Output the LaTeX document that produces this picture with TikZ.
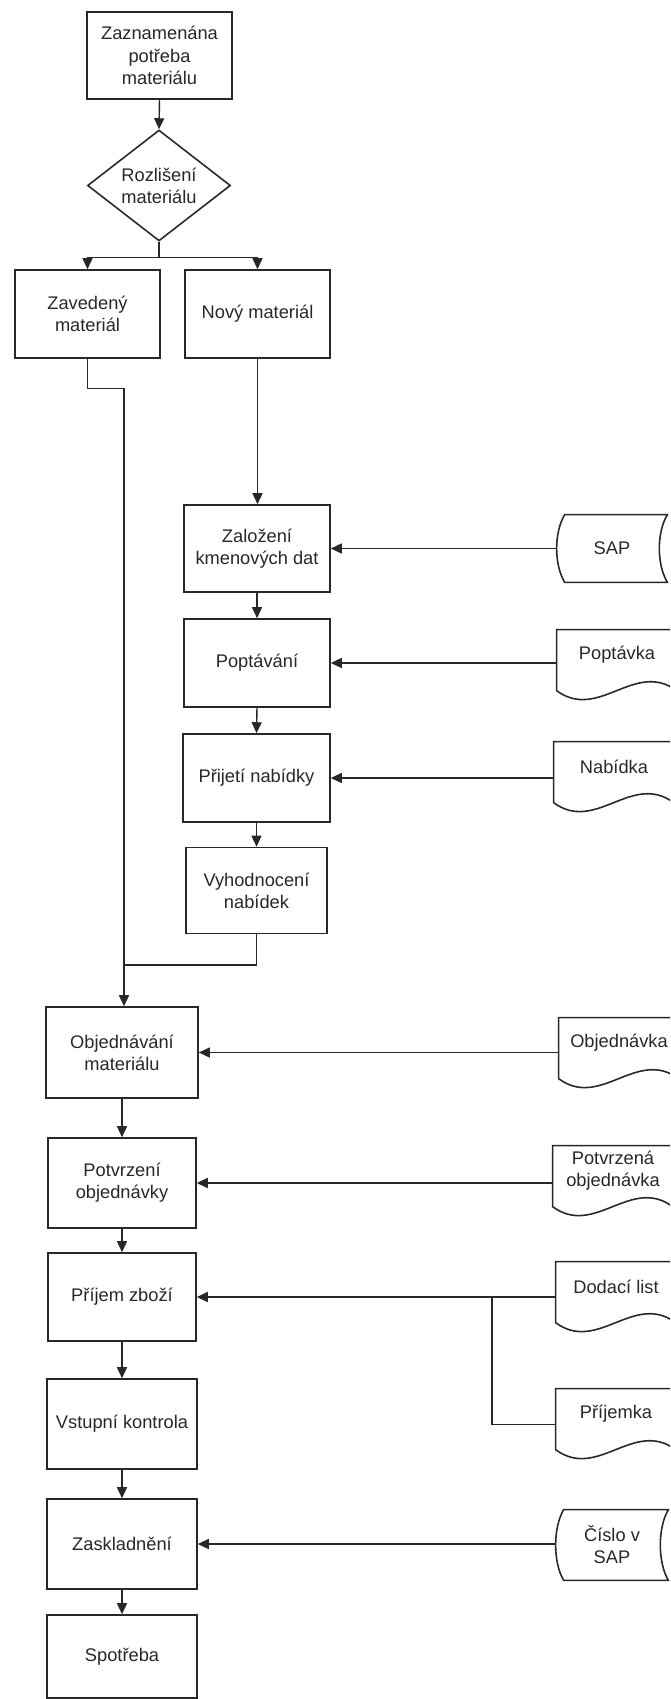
\documentclass[tikz,border=0pt]{standalone}
\usepackage{fontspec}
\setmainfont{Liberation Sans}
\usetikzlibrary{shapes.geometric,arrows.meta,calc}
\newcommand{\docshape}[1]{%
  \draw[shp] ($(#1.north west)+(125,0)$) -- (#1.north west) -- ($(#1.north west)+(0,61)$)
    .. controls ($(#1.north west)+(42,92)$) and ($(#1.north west)+(78,30)$) .. ($(#1.north west)+(120,61)$)
    -- ($(#1.north west)+(120,0)$);}
\newcommand{\storeshape}[1]{%
  \draw[shp] ($(#1.north west)+(8,0)$) -- (#1.north east)
    .. controls ($(#1.north east)+(-10.7,18)$) and ($(#1.south east)+(-10.7,-18)$) .. (#1.south east)
    -- ($(#1.south west)+(8,0)$)
    .. controls ($(#1.south west)+(-2.7,-18)$) and ($(#1.north west)+(-2.7,18)$) .. cycle;}
\definecolor{ink}{RGB}{40,40,40}
\begin{document}
\begin{tikzpicture}[x=0.02cm,y=-0.02cm,
  every node/.style={font=\fontsize{10.4}{12.6}\selectfont, align=center, inner sep=1pt, text=ink},
  box/.style={draw=ink, line width=0.9pt, rectangle},
  dec/.style={draw=ink, line width=0.9pt, shape=diamond, inner sep=0pt, minimum width=2.86cm, minimum height=1.7cm},
  docnode/.style={rectangle, minimum width=2.4cm, minimum height=1.0cm},
  stnode/.style={rectangle, minimum height=1.34cm},
  shp/.style={draw=ink, line width=0.9pt},
  conn/.style={draw=ink, line width=0.8pt},
  arr/.style={conn, -{Triangle[length=2.2mm,width=2mm]}}]
\useasboundingbox (0,0) rectangle (670,1699);
\fill[white] (0,0) rectangle (670,1699);
\clip (0,0) rectangle (670,1699);

% process column
\node[box, minimum width=2.9cm, minimum height=1.74cm] (top) at (159.5,55.5) {Zaznamenána\\potřeba\\materiálu};
\node[dec] (diam) at (159,185.5) {Rozlišení\\materiálu};
\node[box, minimum width=2.9cm, minimum height=1.76cm] (zav) at (87.5,314) {Zavedený\\materiál};
\node[box, minimum width=2.9cm, minimum height=1.76cm] (nov) at (257.5,314) {Nový materiál};
\node[box, minimum width=2.92cm, minimum height=1.74cm] (zal) at (257,548.5) {Založení\\kmenových dat};
\node[box, minimum width=2.92cm, minimum height=1.76cm] (pop) at (257,663) {Poptávání};
\node[box, minimum width=2.94cm, minimum height=1.76cm] (prij) at (256.5,778) {Přijetí nabídky};
\node[box, minimum width=2.82cm, minimum height=1.72cm] (vyh) at (256.5,890.5) {Vyhodnocení\\nabídek};
\node[box, minimum width=3.04cm, minimum height=1.82cm] (objm) at (122,1052.5) {Objednávání\\materiálu};
\node[box, minimum width=2.96cm, minimum height=1.8cm] (pot) at (122,1183) {Potvrzení\\objednávky};
\node[box, minimum width=2.96cm, minimum height=1.76cm] (prz) at (122,1297) {Příjem zboží};
\node[box, minimum width=3.0cm, minimum height=1.8cm] (vst) at (122,1424) {Vstupní kontrola};
\node[box, minimum width=3.0cm, minimum height=1.8cm] (zas) at (122,1544) {Zaskladnění};
\node[box, minimum width=3.0cm, minimum height=1.66cm] (spo) at (122,1656.5) {Spotřeba};

% data / documents on the right
\node[stnode, minimum width=2.2cm] (sap) at (612,548.5) {SAP};
\storeshape{sap}
\node[docnode] (popk) at (617,655) {Poptávka};
\docshape{popk}
\node[docnode] (nab) at (614,767) {Nabídka};
\docshape{nab}
\node[docnode] (objk) at (619,1043) {Objednávka};
\docshape{objk}
\node[docnode] (potk) at (613,1171) {Potvrzená\\objednávka};
\docshape{potk}
\node[docnode] (dod) at (616,1287) {Dodací list};
\docshape{dod}
\node[docnode] (prk) at (616,1414) {Příjemka};
\docshape{prk}
\node[stnode, minimum width=2.24cm, minimum height=1.4cm] (cis) at (612,1545) {Číslo v\\SAP};
\storeshape{cis}

% helper points
\coordinate (merge) at (124,965);
\coordinate (jn) at (492,0 |- prz.east);
\coordinate (prkin) at ($(prk.north west)+(0,36)$);

% connectors
\draw[arr] (top.south) -- (diam.north);
\draw[arr] (diam.south) -- ++(0,16) -| (zav.north);
\draw[arr] (diam.south) -- ++(0,16) -| (nov.north);
\draw[conn] (zav.south) -- ++(0,30) -| (merge);
\draw[arr] (merge) -- (merge |- objm.north);
\draw[arr] (nov.south) -- (nov.south |- zal.north);
\draw[arr] (zal.south) -- (pop.north);
\draw[arr] (pop.south) -- (prij.north);
\draw[arr] (prij.south) -- (vyh.north);
\draw[conn] (vyh.south) |- (merge);
\draw[arr] (objm.south) -- (pot.north);
\draw[arr] (pot.south) -- (prz.north);
\draw[arr] (prz.south) -- (vst.north);
\draw[arr] (vst.south) -- (zas.north);
\draw[arr] (zas.south) -- (spo.north);

\draw[arr] (sap.west |- zal.east) -- (zal.east);
\draw[arr] (popk.west |- pop.east) -- (pop.east);
\draw[arr] (nab.west |- prij.east) -- (prij.east);
\draw[arr] (objk.west |- objm.east) -- (objm.east);
\draw[arr] (potk.west |- pot.east) -- (pot.east);
\draw[arr] (dod.west |- prz.east) -- (prz.east);
\draw[conn] (prkin) -| (jn);
\draw[arr] (cis.west |- zas.east) -- (zas.east);
\end{tikzpicture}
\end{document}
